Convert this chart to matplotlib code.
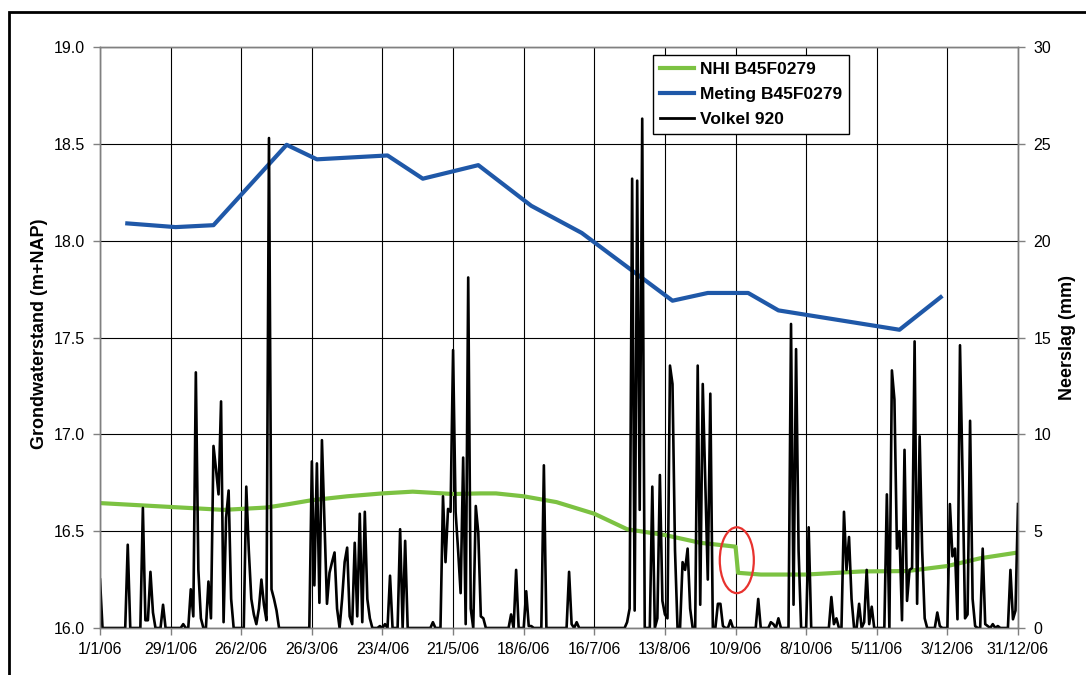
import numpy as np
import pandas as pd
import matplotlib
matplotlib.use("Agg")
import matplotlib.pyplot as plt
import matplotlib.dates as mdates
from matplotlib.patches import Ellipse, Rectangle
from matplotlib.lines import Line2D

plt.rcParams['font.family'] = ['Liberation Sans', 'DejaVu Sans']

START = pd.Timestamp('2006-01-01')
N_DAYS = 365

# Daily precipitation Volkel 920: day offset from 1 Jan 2006 and amount (mm); all other days dry
rain_day = [0, 11, 17, 18, 19, 20, 21, 25, 33, 36, 37, 38, 39, 40, 43, 44, 45, 46, 47, 48,
            49, 50, 51, 52, 58, 59, 60, 61, 62, 63, 64, 65, 66, 67, 68, 69, 70,
            84, 85, 86, 87, 88, 89, 90, 91, 92, 93, 94, 96, 97, 98, 99, 100, 101, 102,
            103, 104, 105, 106, 107, 111, 113, 115, 119, 121, 132,
            136, 137, 138, 139, 140, 141, 142, 143, 144, 145, 146, 147, 149, 150, 151, 152,
            163, 165, 169, 170, 171, 176, 186, 187, 189,
            209, 210, 211, 212, 213, 214, 215, 219, 221, 222, 223, 224, 225, 226, 227, 228,
            231, 232, 233, 234, 237, 238, 239, 240, 241, 242, 245, 246, 247, 250,
            261, 266, 267, 269, 274, 275, 276, 277, 281, 290, 291, 292,
            295, 296, 297, 298, 301, 303, 304, 305, 306,
            312, 314, 315, 316, 317, 318, 319, 320, 321, 322, 323, 324, 325, 326, 327,
            332, 333, 337, 338, 339, 340, 341, 342, 343, 344, 345, 346, 347,
            350, 351, 352, 354, 356, 361, 362, 363, 364]
rain_mm = [2.5, 4.3, 6.2, 0.4, 0.4, 2.9, 0.8, 1.2, 0.2, 2.0, 0.6, 13.2, 3.0, 0.5, 2.4, 0.5, 9.4, 8.2, 6.9, 11.7,
           0.3, 5.7, 7.1, 1.5, 7.3, 4.0, 1.5, 0.7, 0.2, 1.0, 2.5, 1.2, 0.4, 25.3, 2.0, 1.5, 0.9,
           8.6, 2.2, 8.5, 1.3, 9.7, 5.5, 1.25, 2.85, 3.4, 3.9, 1.0, 1.5, 3.4, 4.15, 0.6, 0.2, 4.4, 0.6,
           5.9, 0.3, 6.0, 1.5, 0.5, 0.1, 0.2, 2.7, 5.1, 4.5, 0.3,
           6.8, 3.4, 6.15, 6.0, 14.35, 6.0, 4.0, 1.8, 8.8, 0.2, 18.1, 1.0, 6.3, 4.9, 0.6, 0.5,
           0.7, 3.0, 1.9, 0.1, 0.1, 8.4, 2.9, 0.2, 0.3,
           0.3, 1.0, 23.2, 0.9, 23.1, 6.1, 26.3, 7.3, 0.5, 7.9, 1.4, 0.7, 0.5, 13.55, 12.6, 4.0,
           3.4, 3.0, 4.1, 1.0, 13.55, 1.2, 12.6, 7.5, 2.5, 12.1, 1.25, 1.25, 0.1, 0.4,
           1.5, 0.3, 0.2, 0.5, 15.7, 1.2, 14.4, 4.0, 5.2, 1.6, 0.2, 0.5,
           6.0, 3.0, 4.7, 1.5, 1.25, 0.3, 3.0, 0.2, 1.1,
           6.9, 13.3, 11.8, 4.1, 5.0, 0.4, 9.2, 1.4, 3.0, 3.1, 14.8, 1.25, 9.9, 4.0, 0.5,
           0.8, 0.1, 6.4, 3.7, 4.1, 0.45, 14.6, 8.0, 0.5, 0.7, 10.7, 1.5, 0.1,
           4.1, 0.2, 0.1, 0.2, 0.1, 3.0, 0.45, 0.9, 6.4]

# Measured groundwater level B45F0279 (m+NAP)
meting_day = [10, 30, 45, 74, 86, 114, 128, 150, 171, 191, 227, 241, 257, 269, 317, 334]
meting_level = [18.09, 18.07, 18.08, 18.495, 18.42, 18.44, 18.32, 18.39, 18.18, 18.04,
                17.69, 17.73, 17.73, 17.64, 17.54, 17.715]

# NHI model groundwater level B45F0279 (m+NAP)
nhi_day = [0, 28, 49, 66, 75, 84, 98, 112, 124, 140, 151, 157, 168, 181, 196, 209, 224,
           238, 252, 253, 262, 280, 302, 320, 336, 349, 364]
nhi_level = [16.645, 16.625, 16.61, 16.622, 16.64, 16.66, 16.68, 16.695, 16.704, 16.692,
             16.695, 16.695, 16.68, 16.65, 16.59, 16.51, 16.48, 16.44, 16.42, 16.285,
             16.276, 16.276, 16.292, 16.294, 16.32, 16.36, 16.39]

tick_labels = ["1/1/06", "29/1/06", "26/2/06", "26/3/06", "23/4/06", "21/5/06", "18/6/06",
               "16/7/06", "13/8/06", "10/9/06", "8/10/06", "5/11/06", "3/12/06", "31/12/06"]


def to_dates(days):
    return START + pd.to_timedelta(np.asarray(days), unit='D')


rain = np.zeros(N_DAYS)
rain[np.asarray(rain_day)] = rain_mm
rain_dates = to_dates(np.arange(N_DAYS))

GREEN = '#7cc242'
BLUE = '#1f58a8'

fig = plt.figure(figsize=(10.86, 6.75), dpi=100)
ax1 = fig.add_axes([100 / 1086, 1 - 628 / 675, 918 / 1086, 581 / 675])
ax2 = ax1.twinx()

# grid and left axis
ax1.set_axisbelow(True)
ax1.grid(True, color='black', linewidth=0.8)
ax1.set_ylim(16.0, 19.0)
ax1.set_yticks(np.arange(16.0, 19.01, 0.5))
ax1.set_yticklabels([f"{v:.1f}" for v in np.arange(16.0, 19.01, 0.5)])

ax1.plot(to_dates(nhi_day), nhi_level, color=GREEN, linewidth=3.0, solid_capstyle='butt')
ax1.plot(to_dates(meting_day), meting_level, color=BLUE, linewidth=3.0, solid_capstyle='butt')

xticks = to_dates(np.arange(0, 365, 28))
ax1.set_xlim(xticks[0], xticks[-1])
ax1.set_xticks(xticks)
ax1.set_xticklabels(tick_labels)

# precipitation on the right axis
ax2.plot(rain_dates, rain, color='black', linewidth=1.9)
ax2.set_ylim(0, 30)
ax2.set_yticks(np.arange(0, 31, 5))

# highlight of the model step
center = mdates.date2num(START + pd.Timedelta(days=252.5))
ax1.add_patch(Ellipse((center, 16.35), width=13.5, height=0.34, fill=False,
                      edgecolor='#e8322e', linewidth=1.6, zorder=5))

for ax in (ax1, ax2):
    for s in ax.spines.values():
        s.set_color('#808080')
        s.set_linewidth(1.0)
    ax.tick_params(direction='out', length=5, width=1.0, color='#808080',
                   labelsize=11.5, labelcolor='black')
ax1.tick_params(axis='y', pad=6)
ax2.tick_params(axis='y', pad=6)
ax1.tick_params(axis='x', pad=5)

fig.text(40 / 1086, 1 - 334 / 675, 'Grondwaterstand (m+NAP)', rotation=90,
         ha='center', va='center', fontsize=13, fontweight='bold')
fig.text(1068 / 1086, 1 - 337 / 675, 'Neerslag (mm)', rotation=90,
         ha='center', va='center', fontsize=13, fontweight='bold')

handles = [Line2D([], [], color=GREEN, linewidth=3.0),
           Line2D([], [], color=BLUE, linewidth=3.0),
           Line2D([], [], color='black', linewidth=2.0)]
labels = ['NHI B45F0279', 'Meting B45F0279', 'Volkel 920']
leg = ax2.legend(handles, labels, loc='upper left', bbox_to_anchor=(0.602, 0.986),
                 frameon=True, fancybox=False, edgecolor='black', framealpha=1,
                 prop={'weight': 'bold', 'size': 12.5}, handlelength=2.0,
                 handletextpad=0.35, labelspacing=0.55, borderpad=0.4,
                 borderaxespad=0)
leg.get_frame().set_linewidth(1.0)

# outer frame of the figure
fig.add_artist(Rectangle((9 / 1086, -0.2), 1.5, (1 - 12 / 675) + 0.2,
                         transform=fig.transFigure, fill=False, edgecolor='black',
                         linewidth=2.0, clip_on=False))

fig.savefig('out.png', dpi=100)
